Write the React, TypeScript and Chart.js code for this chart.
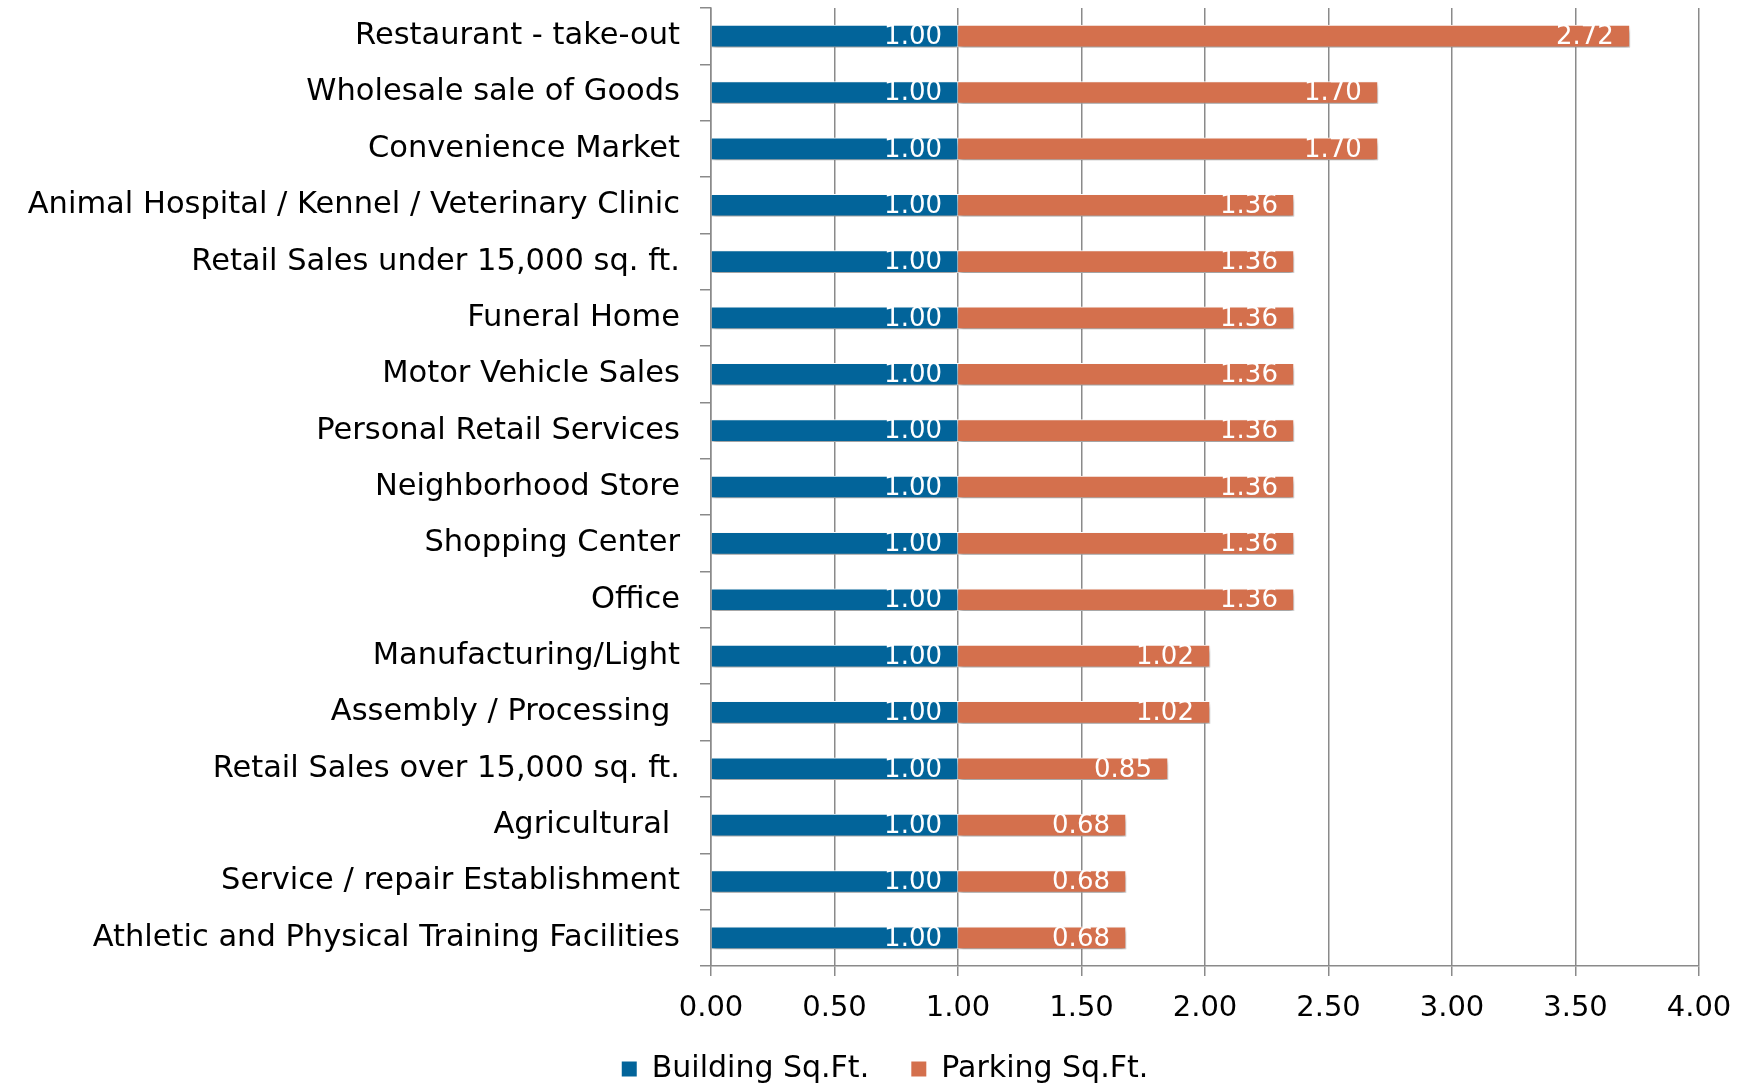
import React, { useEffect, useRef } from "react";
import { Chart, registerables } from "chart.js";

Chart.register(...registerables);

const categories = [
  "Restaurant - take-out",
  "Wholesale sale of Goods",
  "Convenience Market",
  "Animal Hospital / Kennel / Veterinary Clinic",
  "Retail Sales under 15,000 sq. ft.",
  "Funeral Home",
  "Motor Vehicle Sales",
  "Personal Retail Services",
  "Neighborhood Store",
  "Shopping Center",
  "Office",
  "Manufacturing/Light",
  "Assembly / Processing ",
  "Retail Sales over 15,000 sq. ft.",
  "Agricultural ",
  "Service / repair Establishment",
  "Athletic and Physical Training Facilities",
];

const buildingSqFt = [1.0, 1.0, 1.0, 1.0, 1.0, 1.0, 1.0, 1.0, 1.0, 1.0, 1.0, 1.0, 1.0, 1.0, 1.0, 1.0, 1.0];
const parkingSqFt = [2.72, 1.7, 1.7, 1.36, 1.36, 1.36, 1.36, 1.36, 1.36, 1.36, 1.36, 1.02, 1.02, 0.85, 0.68, 0.68, 0.68];

const seriesNames = ["Building Sq.Ft.", "Parking Sq.Ft."];
const xMin = 0;
const xMax = 4;
const xStep = 0.5;

const FONT = '"DejaVu Sans", sans-serif';
const BLUE = "#02649A";
const ORANGE = "#D4704D";
const GRID = "#8a8a8a";

const shadowAndLabels = {
  id: "shadowAndLabels",
  afterLayout(chart: any) {
    // centre the legend row like the original and nudge it down slightly
    if (chart.legend) {
      chart.legend.left = 70;
      chart.legend.right = 1700;
      chart.legend.width = 1630;
      chart.legend.top += 1;
      chart.legend.bottom += 1;
    }
  },
  beforeDatasetsDraw(chart: any) {
    const ctx = chart.ctx;
    ctx.save();
    ctx.shadowColor = "rgba(0,0,0,0.4)";
    ctx.shadowBlur = 5;
    ctx.shadowOffsetX = 1;
    ctx.shadowOffsetY = 4;
  },
  afterDatasetsDraw(chart: any) {
    const ctx = chart.ctx;
    ctx.restore();
    ctx.save();
    ctx.fillStyle = "#ffffff";
    ctx.font = `26px ${FONT}`;
    ctx.textAlign = "right";
    ctx.textBaseline = "middle";
    chart.data.datasets.forEach((ds: any, di: number) => {
      const meta = chart.getDatasetMeta(di);
      meta.data.forEach((bar: any, i: number) => {
        const v = ds.data[i];
        ctx.fillText(Number(v).toFixed(2), bar.x - 16, bar.y + 1);
      });
    });
    ctx.restore();
  },
};

export default function App() {
  const ref = useRef<HTMLCanvasElement | null>(null);

  useEffect(() => {
    if (!ref.current) return;
    const chart = new Chart(ref.current, {
      type: "bar",
      data: {
        labels: categories,
        datasets: [
          {
            label: seriesNames[0],
            data: buildingSqFt,
            backgroundColor: BLUE,
            borderColor: "#ffffff",
            borderWidth: 1,
            barThickness: 22,
          },
          {
            label: seriesNames[1],
            data: parkingSqFt,
            backgroundColor: ORANGE,
            borderColor: "#ffffff",
            borderWidth: 1,
            barThickness: 22,
          },
        ],
      },
      options: {
        indexAxis: "y",
        responsive: false,
        animation: false,
        layout: { padding: { top: 8, right: 55, left: 0, bottom: -6 } },
        scales: {
          x: {
            stacked: true,
            min: xMin,
            max: xMax,
            ticks: {
              stepSize: xStep,
              color: "#000",
              font: { family: FONT, size: 29 },
              padding: 15,
              callback: (v: any) => Number(v).toFixed(2),
            },
            grid: { color: GRID, lineWidth: 1.5, tickLength: 10, drawTicks: true },
            border: { color: GRID, width: 1.5 },
            afterFit: (s: any) => {
              s.height = 83;
              s.paddingLeft = 0;
              s.paddingRight = 0;
            },
          },
          y: {
            stacked: true,
            ticks: {
              color: "#000",
              font: { family: FONT, size: 30.5 },
              padding: 20,
              autoSkip: false,
            },
            grid: { drawOnChartArea: false, drawTicks: true, tickLength: 11, color: GRID, lineWidth: 1.5 },
            border: { color: GRID, width: 1.5 },
            afterFit: (s: any) => {
              s.width = 711;
              s.paddingTop = 0;
              s.paddingBottom = 0;
            },
          },
        },
        plugins: {
          legend: {
            position: "bottom",
            labels: {
              color: "#000",
              font: { family: FONT, size: 30 },
              boxWidth: 15,
              boxHeight: 15,
              padding: 4,
              generateLabels: (c: any) => {
                const items = Chart.defaults.plugins.legend.labels.generateLabels(c);
                items.forEach((it: any, i: number) => {
                  it.lineWidth = 0;
                  it.strokeStyle = "transparent";
                  if (i === 0) it.text = it.text + "    ";
                });
                return items;
              },
            },
          },
          tooltip: { enabled: false },
        },
      },
      plugins: [shadowAndLabels],
    });
    return () => chart.destroy();
  }, []);

  return (
    <div style={{ position: "absolute", left: 0, top: 0, width: 1754, height: 1087, background: "#fff" }}>
      <canvas ref={ref} width={1754} height={1087} style={{ display: "block" }} />
    </div>
  );
}
